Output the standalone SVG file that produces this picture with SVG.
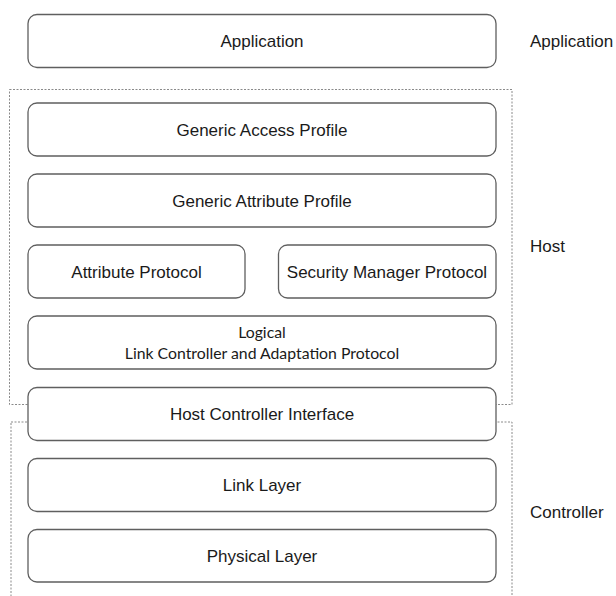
<svg xmlns="http://www.w3.org/2000/svg" width="616" height="596" viewBox="0 0 616 596">
<style>
.layer{fill:#ffffff;stroke:#5f5f5f;stroke-width:1.3}
.group{fill:none;stroke:#8a8a8a;stroke-width:1;stroke-dasharray:2 1.5}
.t{font-family:"Liberation Sans",Arial,sans-serif;font-size:17px;fill:#1a1a1a;text-anchor:middle}
.lbl{font-family:"Liberation Sans",Arial,sans-serif;font-size:17px;fill:#1a1a1a}
.c{font-family:Lato,"Open Sans",sans-serif;font-size:15.8px;fill:#1a1a1a;text-anchor:middle}
</style>
<rect width="616" height="596" fill="#ffffff"/>
<g id="groups">
  <rect id="host-group" class="group" x="9.5" y="89.5" width="502.5" height="315"/>
  <rect id="controller-group" class="group" x="11" y="422" width="501" height="190"/>
</g>
<g id="connectors"></g>
<g id="application">
  <rect class="layer" x="28" y="14.5" width="468" height="53" rx="9"/>
  <text class="t" x="262" y="47">Application</text>
</g>
<g id="gap">
  <rect class="layer" x="28" y="103" width="468" height="53" rx="9"/>
  <text class="t" x="262" y="135.5">Generic Access Profile</text>
</g>
<g id="gatt">
  <rect class="layer" x="28" y="174" width="468" height="53" rx="9"/>
  <text class="t" x="262" y="206.5">Generic Attribute Profile</text>
</g>
<g id="att">
  <rect class="layer" x="28" y="245" width="217" height="53" rx="9"/>
  <text class="t" x="136.5" y="277.5">Attribute Protocol</text>
</g>
<g id="smp">
  <rect class="layer" x="278.5" y="245" width="217.5" height="53" rx="9"/>
  <text class="t" x="387" y="277.5">Security Manager Protocol</text>
</g>
<g id="l2cap">
  <rect class="layer" x="28" y="316" width="468" height="53" rx="9"/>
  <text class="c" x="262" y="338">Logical</text>
  <text class="c" x="262" y="359">Link Controller and Adaptation Protocol</text>
</g>
<g id="hci">
  <rect class="layer" x="28" y="387.5" width="468" height="53" rx="9"/>
  <text class="t" x="262" y="420">Host Controller Interface</text>
</g>
<g id="link-layer">
  <rect class="layer" x="28" y="458.5" width="468" height="53" rx="9"/>
  <text class="t" x="262" y="491">Link Layer</text>
</g>
<g id="physical-layer">
  <rect class="layer" x="28" y="529.5" width="468" height="52.5" rx="9"/>
  <text class="t" x="262" y="562">Physical Layer</text>
</g>
<g id="labels">
  <text class="lbl" x="530" y="47">Application</text>
  <text class="lbl" x="530" y="252">Host</text>
  <text class="lbl" x="530" y="517.5">Controller</text>
</g>
</svg>
